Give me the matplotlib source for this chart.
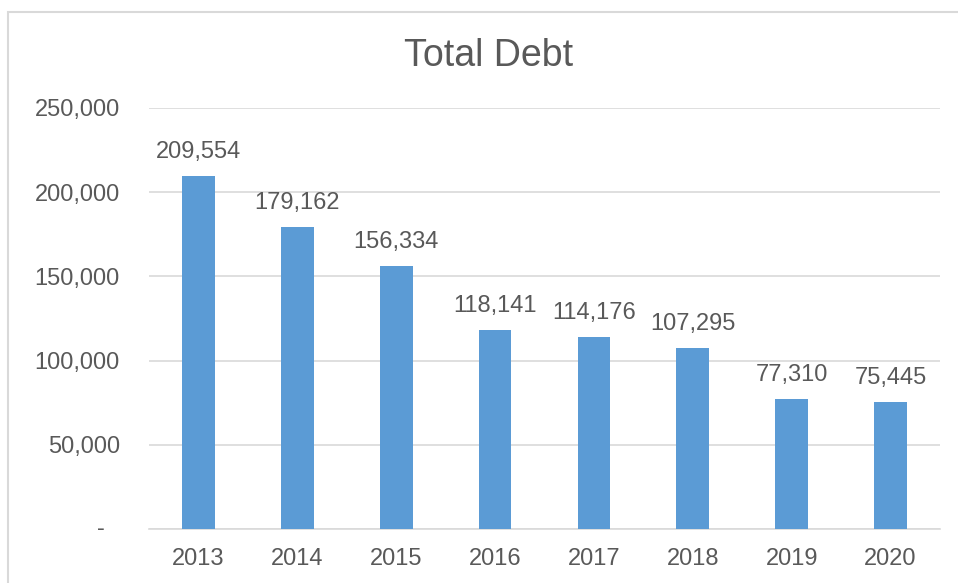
import matplotlib.pyplot as plt
from matplotlib.patches import Rectangle
from matplotlib.ticker import FuncFormatter

years = ["2013", "2014", "2015", "2016", "2017", "2018", "2019", "2020"]
debt = [209554, 179162, 156334, 118141, 114176, 107295, 77310, 75445]
yticks = [0, 50000, 100000, 150000, 200000, 250000]

txt = "#595959"
plt.rcParams['font.family'] = ['Liberation Sans', 'DejaVu Sans']

fig = plt.figure(figsize=(9.58, 5.83), dpi=100)
ax = fig.add_axes([149/958, 54/583, 791/958, 421/583])

# chart border (cropped by the picture on the right and bottom)
fig.patches.append(Rectangle((8/958, -0.1), 2, (583-12)/583 + 0.1, transform=fig.transFigure,
                             fill=False, edgecolor="#D9D9D9", linewidth=1.5))

x = range(len(years))
bars = ax.bar(x, debt, width=0.33, color="#5B9BD5", zorder=3)
ax.bar_label(bars, labels=[f"{v:,}" for v in debt], padding=9.5, fontsize=17, color=txt)

ax.set_xlim(-0.5, len(years) - 0.5)
ax.set_ylim(0, 250000)
ax.set_yticks(yticks)
ax.yaxis.set_major_formatter(FuncFormatter(lambda v, p: "" if v == 0 else f"{int(v):,}"))
ax.set_xticks(list(x))
ax.set_xticklabels(years)
ax.grid(axis="y", color="#D9D9D9", linewidth=1.2, zorder=0)
for s in ["top", "right", "left"]:
    ax.spines[s].set_visible(False)
ax.spines["bottom"].set_color("#D9D9D9")
ax.spines["bottom"].set_linewidth(1.2)
ax.tick_params(axis="x", length=0, pad=14, labelsize=17, labelcolor=txt)
ax.tick_params(axis="y", length=0, pad=21, labelsize=17, labelcolor=txt)
# accounting style dash for zero
ax.text(-0.061, 0, "-", transform=ax.get_yaxis_transform(), ha="center", va="center",
        fontsize=17, color=txt)

fig.text(489/958, 1 - 56/583, "Total Debt", ha="center", va="center", fontsize=27, color=txt)

fig.savefig("out.png", dpi=100)
